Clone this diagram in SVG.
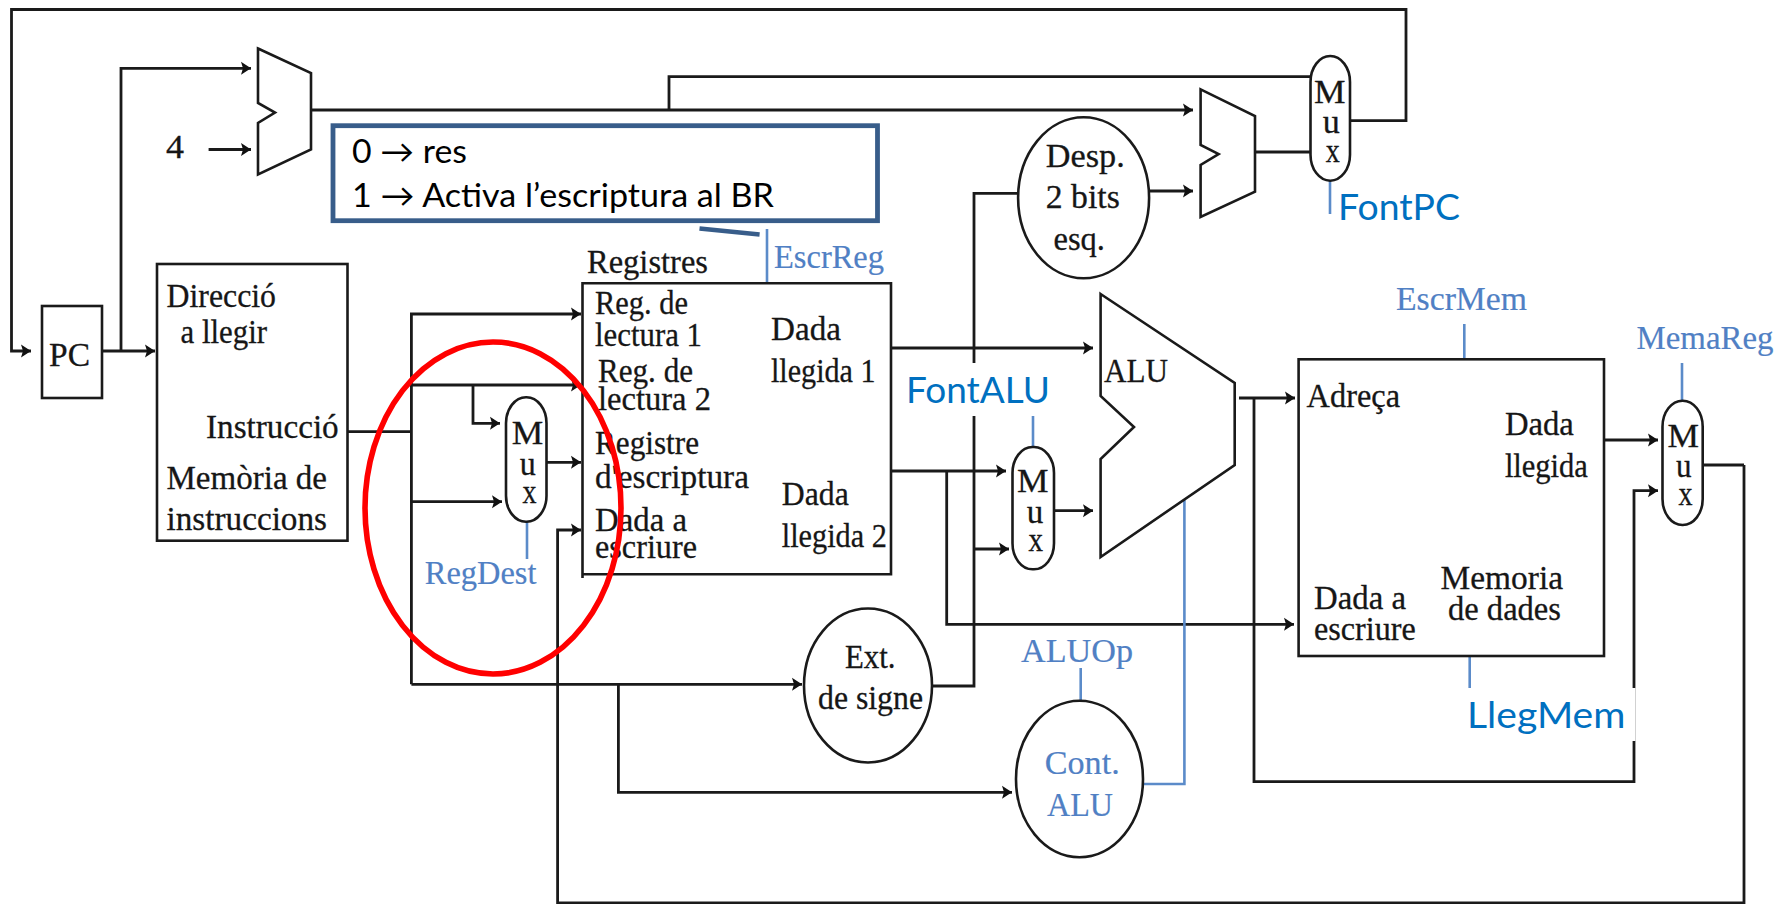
<svg xmlns="http://www.w3.org/2000/svg" width="1788" height="904" viewBox="0 0 1788 904">
<style>
text{white-space:pre}
.s{font-family:"Liberation Serif","Times New Roman",serif;font-size:34px;fill:#161616;stroke:#161616;stroke-width:.3}
.b{font-family:"Liberation Serif","Times New Roman",serif;font-size:34px;fill:#5080c4;stroke:#5080c4;stroke-width:.2}
.c{font-family:Lato,"Noto Sans","DejaVu Sans",sans-serif;font-size:36px;fill:#0070c0}
.k{font-family:Lato,"Noto Sans","DejaVu Sans",sans-serif;font-size:32px;fill:#000}
.n{fill:#fff;stroke:#1a1a1a;stroke-width:2.6}
.w{fill:none;stroke:#1a1a1a;stroke-width:2.8}
.a{marker-end:url(#h)}
.t{fill:none;stroke:#5b8bc9;stroke-width:2.6}
</style>
<defs>
<marker id="h" markerUnits="userSpaceOnUse" markerWidth="11" markerHeight="14" refX="10" refY="7" orient="auto">
<path d="M0,0.5 L10,7 L0,13.5 L2,7 Z" fill="#111"/>
</marker>
</defs>
<rect width="1788" height="904" fill="#fff"/>
<g id="connectors">
<path class="w a" d="M1350,120.7 H1406 V9.5 H11.5 V351 H31"/>
<path class="w a" d="M102,351 H155"/>
<path class="w a" d="M121,351 V68.3 H251"/>
<path class="w a" d="M208.6,149.5 H251"/>
<path class="w a" d="M311,110 H1193"/>
<path class="w" d="M669,110 V76.7 H1311"/>
<path class="w a" d="M1150,191 H1193"/>
<path class="w" d="M1255,152 H1311"/>
<path class="w" d="M347.5,431.7 H411.4"/>
<path class="w a" d="M411.4,684.3 V314 H581"/>
<path class="w a" d="M411.4,385 H581"/>
<path class="w a" d="M473,385 V423.3 H500"/>
<path class="w a" d="M411.4,501.7 H502"/>
<path class="w a" d="M546.5,462.3 H581"/>
<path class="w a" d="M1744,465 V903 H557.6 V530 H581"/>
<path class="w" d="M1702.7,465 H1744"/>
<path class="w a" d="M411.4,684.3 H802"/>
<path class="w a" d="M618.4,684.3 V792.3 H1012"/>
<path class="w" d="M932,686 H974 V193.3 H1019"/>
<path class="w a" d="M974,549 H1009"/>
<path class="w a" d="M891,348 H1093"/>
<path class="w a" d="M891,471 H1006"/>
<path class="w a" d="M946.7,471 V624.3 H1294"/>
<path class="w a" d="M1054,510.7 H1093"/>
<path class="w a" d="M1239,398 H1295"/>
<path class="w a" d="M1254,398 V781.7 H1634 V490.7 H1658"/>
<path class="w a" d="M1604,440 H1658"/>
<path class="t" d="M1142.7,784 H1184.4 V499"/>
<path class="t" d="M767,229 V284"/>
<path class="t" d="M1330,181 V214"/>
<path class="t" d="M1464.3,324 V360"/>
<path class="t" d="M1682,363 V401"/>
<path class="t" d="M527,522 V559"/>
<path class="t" d="M1033,416 V447"/>
<path class="t" d="M1080.7,668 V702"/>
<path class="t" d="M1469.7,655 V688"/>
</g>
<g id="pc"><rect class="n" x="42" y="306" width="60" height="92"/>
<text class="s" x="49" y="366" textLength="41" lengthAdjust="spacingAndGlyphs">PC</text></g>
<g id="adder-pc"><path class="n" d="M258,48.5 L311,73 V149.5 L258,174.5 V123 L275,112.5 L258,103 Z"/>
<text class="s" x="166" y="158" textLength="18" lengthAdjust="spacingAndGlyphs">4</text></g>
<g id="adder-branch"><path class="n" d="M1200.6,89.3 L1255,116 V191.7 L1200.6,217 V165 L1218.6,154 L1200.6,145 Z"/></g>
<g id="mem-instr"><rect class="n" x="157" y="264" width="190.5" height="276.7"/>
<text class="s" x="166.5" y="306.7" textLength="109.5" lengthAdjust="spacingAndGlyphs">Direcció</text>
<text class="s" x="180.6" y="342.7" textLength="86.4" lengthAdjust="spacingAndGlyphs">a llegir</text>
<text class="s" x="206" y="438.3" textLength="132.7" lengthAdjust="spacingAndGlyphs">Instrucció</text>
<text class="s" x="166.5" y="489" textLength="160.5" lengthAdjust="spacingAndGlyphs">Memòria de</text>
<text class="s" x="166.5" y="530" textLength="160.5" lengthAdjust="spacingAndGlyphs">instruccions</text></g>
<g id="registers"><path class="n" d="M582.5,578 V283.3 H891 V574.3 H582.5"/>
<text class="s" x="587" y="273" textLength="121" lengthAdjust="spacingAndGlyphs">Registres</text>
<text class="s" x="595" y="314" textLength="93" lengthAdjust="spacingAndGlyphs">Reg. de</text>
<text class="s" x="595" y="345.7" textLength="107" lengthAdjust="spacingAndGlyphs">lectura 1</text>
<text class="s" x="598" y="381.7" textLength="95" lengthAdjust="spacingAndGlyphs">Reg. de</text>
<text class="s" x="598" y="410" textLength="113" lengthAdjust="spacingAndGlyphs">lectura 2</text>
<text class="s" x="595" y="454" textLength="104" lengthAdjust="spacingAndGlyphs">Registre</text>
<text class="s" x="595" y="488" textLength="154" lengthAdjust="spacingAndGlyphs">d'escriptura</text>
<text class="s" x="595" y="530.7" textLength="92" lengthAdjust="spacingAndGlyphs">Dada a</text>
<text class="s" x="595" y="557.7" textLength="102" lengthAdjust="spacingAndGlyphs">escriure</text>
<text class="s" x="771" y="340" textLength="70" lengthAdjust="spacingAndGlyphs">Dada</text>
<text class="s" x="771" y="381.7" textLength="104.5" lengthAdjust="spacingAndGlyphs">llegida 1</text>
<text class="s" x="781.8" y="505" textLength="67" lengthAdjust="spacingAndGlyphs">Dada</text>
<text class="s" x="781.8" y="546.7" textLength="105" lengthAdjust="spacingAndGlyphs">llegida 2</text></g>
<g id="mux-regdest"><rect class="n" x="506" y="397.3" width="40.5" height="124.4" rx="20" ry="26"/>
<text class="s" x="511.7" y="444" textLength="31.5" lengthAdjust="spacingAndGlyphs">M</text>
<text class="s" x="519.7" y="475" textLength="16" lengthAdjust="spacingAndGlyphs">u</text>
<text class="s" x="522.4" y="502.7" textLength="14" lengthAdjust="spacingAndGlyphs">x</text></g>
<g id="mux-pc"><rect class="n" x="1310.5" y="56" width="39.5" height="124.7" rx="20" ry="26"/>
<text class="s" x="1314" y="102.7" textLength="31.5" lengthAdjust="spacingAndGlyphs">M</text>
<text class="s" x="1322.7" y="133" textLength="17" lengthAdjust="spacingAndGlyphs">u</text>
<text class="s" x="1325.8" y="161.7" textLength="14" lengthAdjust="spacingAndGlyphs">x</text></g>
<g id="mux-alu"><rect class="n" x="1012.5" y="447" width="41.5" height="122.3" rx="20" ry="26"/>
<text class="s" x="1017" y="491.7" textLength="31.5" lengthAdjust="spacingAndGlyphs">M</text>
<text class="s" x="1026.7" y="522.7" textLength="16.5" lengthAdjust="spacingAndGlyphs">u</text>
<text class="s" x="1028.6" y="550.7" textLength="14.5" lengthAdjust="spacingAndGlyphs">x</text></g>
<g id="mux-mem"><rect class="n" x="1662.5" y="400.7" width="40.2" height="124.3" rx="20" ry="26"/>
<text class="s" x="1667.5" y="446.7" textLength="31.5" lengthAdjust="spacingAndGlyphs">M</text>
<text class="s" x="1675.9" y="476.7" textLength="15.5" lengthAdjust="spacingAndGlyphs">u</text>
<text class="s" x="1678.6" y="505" textLength="14" lengthAdjust="spacingAndGlyphs">x</text></g>
<g id="desp"><ellipse class="n" cx="1083.6" cy="197.8" rx="65.5" ry="80.5"/>
<text class="s" x="1045.8" y="166.7" textLength="79" lengthAdjust="spacingAndGlyphs">Desp.</text>
<text class="s" x="1045.8" y="208" textLength="74" lengthAdjust="spacingAndGlyphs">2 bits</text>
<text class="s" x="1053.5" y="250" textLength="51.5" lengthAdjust="spacingAndGlyphs">esq.</text></g>
<g id="ext"><ellipse class="n" cx="868" cy="685.5" rx="64" ry="77"/>
<text class="s" x="845" y="668" textLength="50.5" lengthAdjust="spacingAndGlyphs">Ext.</text>
<text class="s" x="818" y="709" textLength="105" lengthAdjust="spacingAndGlyphs">de signe</text></g>
<g id="cont-alu"><ellipse class="n" cx="1079.5" cy="779" rx="63.5" ry="78.3"/>
<text class="b" x="1044.7" y="774" textLength="75" lengthAdjust="spacingAndGlyphs">Cont.</text>
<text class="b" x="1047" y="815.7" textLength="66" lengthAdjust="spacingAndGlyphs">ALU</text></g>
<g id="alu"><path class="n" d="M1100.6,294 L1234.7,383 V465 L1100.6,557 V459 L1134,427 L1100.6,396 Z"/>
<text class="s" x="1104" y="381.7" textLength="64" lengthAdjust="spacingAndGlyphs">ALU</text></g>
<g id="mem-data"><rect class="n" x="1298.6" y="359.3" width="305.4" height="296.7"/>
<text class="s" x="1306.6" y="407.3" textLength="93.4" lengthAdjust="spacingAndGlyphs">Adreça</text>
<text class="s" x="1504.9" y="435" textLength="69" lengthAdjust="spacingAndGlyphs">Dada</text>
<text class="s" x="1504.9" y="476.7" textLength="83" lengthAdjust="spacingAndGlyphs">llegida</text>
<text class="s" x="1314" y="609" textLength="92" lengthAdjust="spacingAndGlyphs">Dada a</text>
<text class="s" x="1314" y="640" textLength="101.7" lengthAdjust="spacingAndGlyphs">escriure</text>
<text class="s" x="1440.6" y="589.3" textLength="122.4" lengthAdjust="spacingAndGlyphs">Memoria</text>
<text class="s" x="1448" y="620" textLength="113" lengthAdjust="spacingAndGlyphs">de dades</text></g>
<g id="label-escrreg"><text class="b" x="774" y="268" textLength="110" lengthAdjust="spacingAndGlyphs">EscrReg</text></g>
<g id="label-escrmem"><text class="b" x="1396" y="310" textLength="131" lengthAdjust="spacingAndGlyphs">EscrMem</text></g>
<g id="label-memareg"><text class="b" x="1636.5" y="349" textLength="137" lengthAdjust="spacingAndGlyphs">MemaReg</text></g>
<g id="label-regdest"><text class="b" x="424.8" y="584" textLength="111.7" lengthAdjust="spacingAndGlyphs">RegDest</text></g>
<g id="label-aluop"><text class="b" x="1021" y="662" textLength="112" lengthAdjust="spacingAndGlyphs">ALUOp</text></g>
<g id="label-fontpc"><text class="c" x="1338" y="220" textLength="122" lengthAdjust="spacingAndGlyphs">FontPC</text></g>
<g id="label-fontalu"><rect x="906" y="363" width="146" height="53" fill="#fff"/>
<text class="c" x="906" y="403" textLength="144" lengthAdjust="spacingAndGlyphs">FontALU</text></g>
<g id="label-llegmem"><rect x="1471" y="688" width="164.5" height="53" fill="#fff"/>
<text class="c" x="1467" y="728" textLength="158.4" lengthAdjust="spacingAndGlyphs">LlegMem</text></g>
<g id="note"><rect x="333" y="125.7" width="544.5" height="95" fill="#fff" stroke="#385d8a" stroke-width="4.8"/>
<path d="M699.5,228.5 L759.6,234.5" fill="none" stroke="#385d8a" stroke-width="4.6"/>
<text class="k" x="352" y="162.7" textLength="115" lengthAdjust="spacingAndGlyphs">0 → res</text>
<text class="k" x="352" y="207.3" textLength="422" lengthAdjust="spacingAndGlyphs">1 → Activa l’escriptura al BR</text></g>
<g id="highlight"><ellipse cx="493" cy="508" rx="128" ry="166" fill="none" stroke="#ff0000" stroke-width="5.6"/></g>
</svg>
